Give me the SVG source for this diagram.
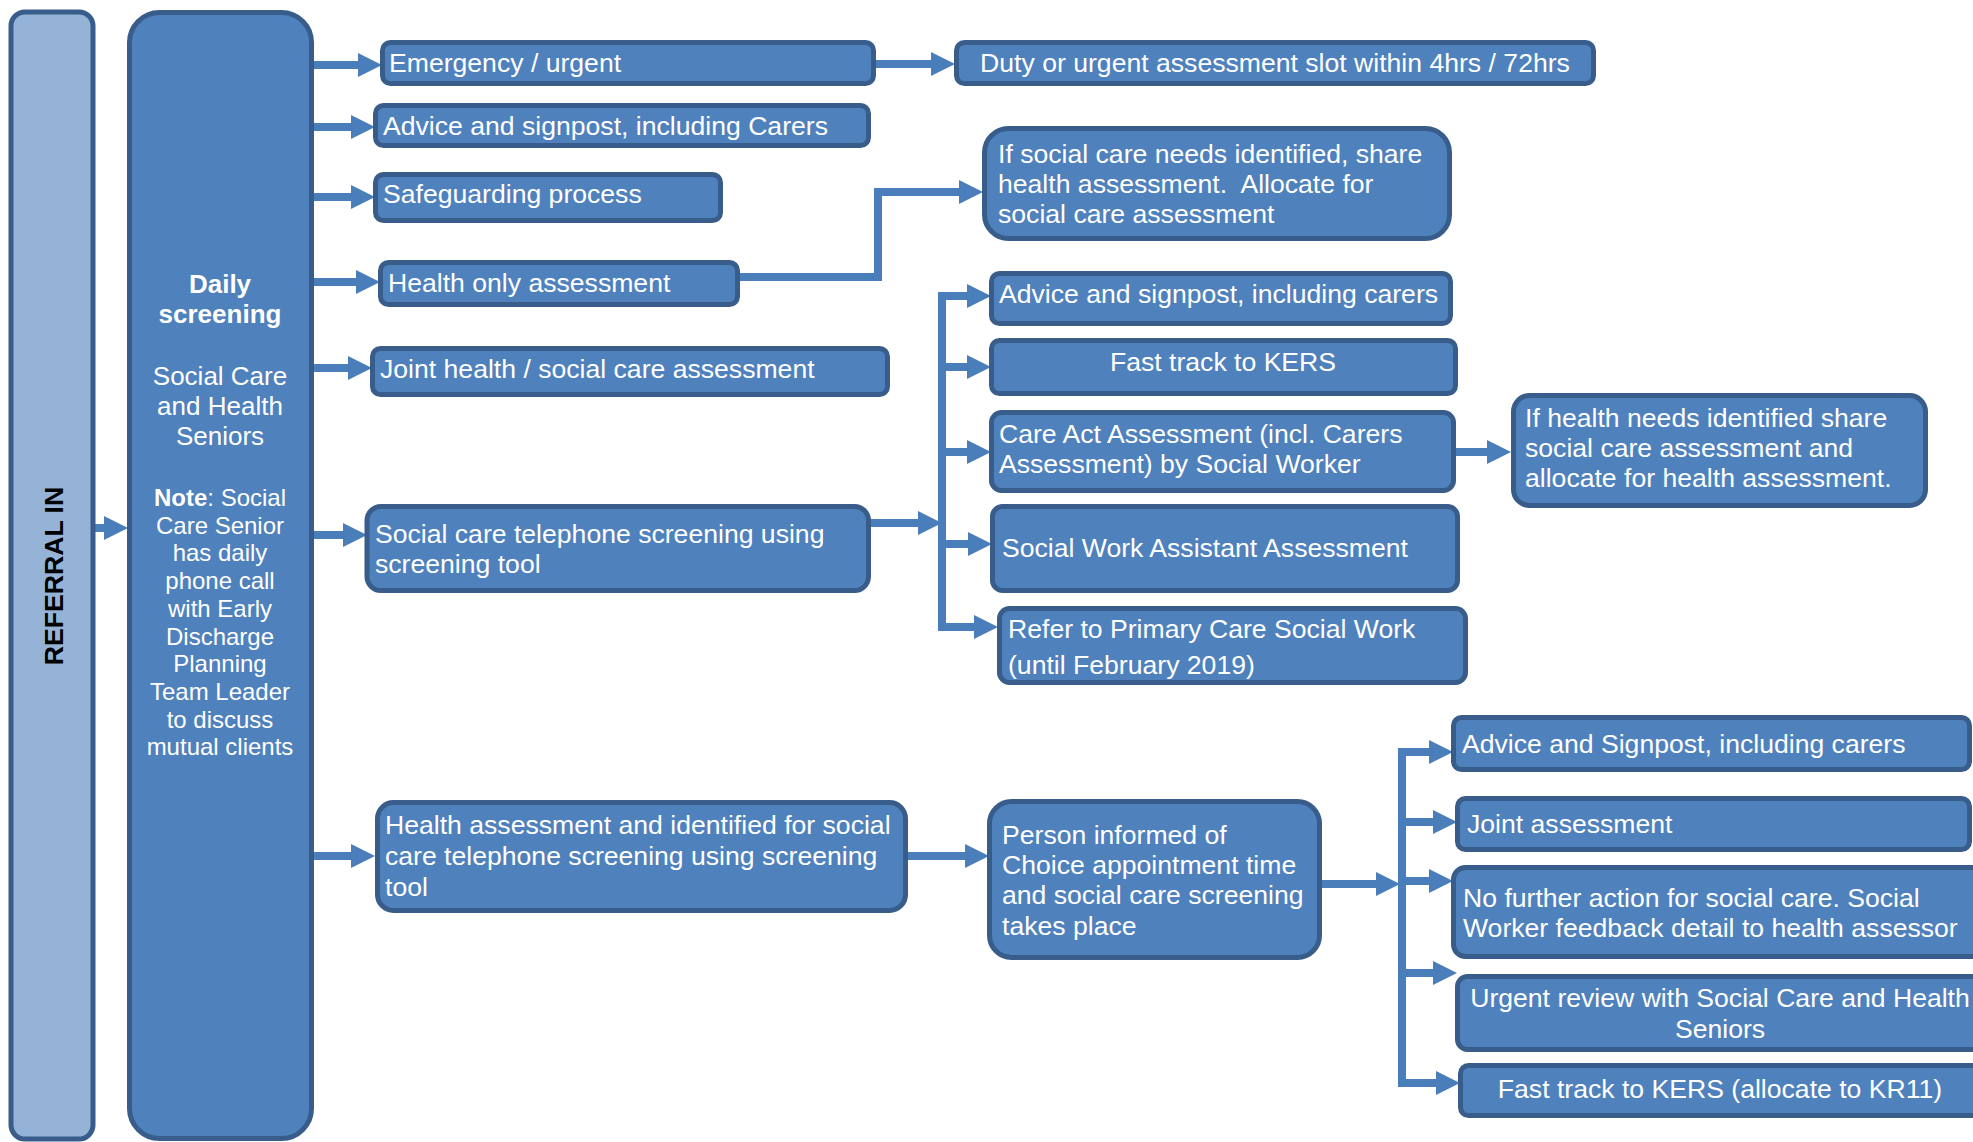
<svg xmlns="http://www.w3.org/2000/svg" width="1973" height="1142" viewBox="0 0 1973 1142">
<defs>
<style>
.box{fill:#4F81BD;stroke:#385D8A;stroke-width:5}
.ref{fill:#95B3D7;stroke:#385D8A;stroke-width:5}
.t{font-family:"Liberation Sans",Arial,sans-serif;font-size:26.6px;fill:#FFFFFF}
.d{font-family:"Liberation Sans",Arial,sans-serif;font-size:26px;fill:#FFFFFF}
.n{font-family:"Liberation Sans",Arial,sans-serif;font-size:24px;fill:#FFFFFF}
.b{font-weight:bold}
.m{text-anchor:middle}
.c{fill:none;stroke:#4A7EBB;stroke-width:8;marker-end:url(#ah)}
.tr{fill:none;stroke:#4A7EBB;stroke-width:8}
</style>
<marker id="ah" markerUnits="userSpaceOnUse" markerWidth="24" markerHeight="24" viewBox="0 0 24 24" refX="4" refY="12" orient="auto">
<path d="M0,0 L24,12 L0,24 z" fill="#4A7EBB"/>
</marker>
</defs>
<rect width="1973" height="1142" fill="#FFFFFF"/>

<g id="connectors">
<path class="c" d="M93,528 H108"/>
<path class="c" d="M312,65 H362"/>
<path class="c" d="M312,127 H355"/>
<path class="c" d="M312,197 H355"/>
<path class="c" d="M312,282 H360"/>
<path class="c" d="M312,368 H352"/>
<path class="c" d="M312,535 H347"/>
<path class="c" d="M296,856 H355"/>
<path class="c" d="M876,64 H935"/>
<path class="c" d="M739,277 H878 V192 H963"/>
<path class="c" d="M870,523 H922"/>
<path class="tr" d="M942,292 V631"/>
<path class="c" d="M938,296 H971"/>
<path class="c" d="M942,367 H971"/>
<path class="c" d="M942,452 H971"/>
<path class="c" d="M942,544 H972"/>
<path class="c" d="M938,627 H978"/>
<path class="c" d="M1455,452 H1491"/>
<path class="c" d="M908,856 H969"/>
<path class="c" d="M1322,884 H1380"/>
<path class="tr" d="M1402,748 V1087"/>
<path class="c" d="M1398,752 H1433"/>
<path class="c" d="M1402,822 H1437"/>
<path class="c" d="M1402,881 H1433"/>
<path class="c" d="M1402,973 H1437"/>
<path class="c" d="M1398,1083 H1440"/>
</g>

<g id="referral-in">
<rect class="ref" x="11" y="12" width="82" height="1127" rx="14"/>
<text class="d b m" style="fill:#000000;font-size:26.6px" transform="translate(63,576) rotate(-90)">REFERRAL IN</text>
</g>

<g id="daily-screening">
<rect class="box" x="129.5" y="12.5" width="182" height="1126" rx="30"/>
<text class="d b m" x="220" y="293">Daily</text>
<text class="d b m" x="220" y="323">screening</text>
<text class="d m" x="220" y="385">Social Care</text>
<text class="d m" x="220" y="415">and Health</text>
<text class="d m" x="220" y="445">Seniors</text>
<text class="n m" x="220" y="506"><tspan font-weight="bold">Note</tspan>: Social</text>
<text class="n m" x="220" y="534">Care Senior</text>
<text class="n m" x="220" y="561">has daily</text>
<text class="n m" x="220" y="589">phone call</text>
<text class="n m" x="220" y="617">with Early</text>
<text class="n m" x="220" y="645">Discharge</text>
<text class="n m" x="220" y="672">Planning</text>
<text class="n m" x="220" y="700">Team Leader</text>
<text class="n m" x="220" y="728">to discuss</text>
<text class="n m" x="220" y="755">mutual clients</text>
</g>

<g id="emergency">
<rect class="box" x="382.5" y="42.5" width="491" height="41" rx="8"/>
<text class="t" x="389" y="72">Emergency / urgent</text>
</g>
<g id="duty">
<rect class="box" x="956.5" y="42.5" width="637" height="41" rx="8"/>
<text class="t m" x="1275" y="72">Duty or urgent assessment slot within 4hrs / 72hrs</text>
</g>
<g id="advice-carers">
<rect class="box" x="375.5" y="105.5" width="493" height="40" rx="8"/>
<text class="t" x="383" y="135">Advice and signpost, including Carers</text>
</g>
<g id="safeguarding">
<rect class="box" x="375.5" y="174.5" width="345" height="46" rx="8"/>
<text class="t" x="383" y="203">Safeguarding process</text>
</g>
<g id="health-only">
<rect class="box" x="380.5" y="262.5" width="357" height="42" rx="8"/>
<text class="t" x="388" y="292">Health only assessment</text>
</g>
<g id="joint-health">
<rect class="box" x="372.5" y="348.5" width="515" height="46" rx="8"/>
<text class="t" x="380" y="378">Joint health / social care assessment</text>
</g>
<g id="social-care-telephone">
<rect class="box" x="367" y="506.5" width="501.5" height="84" rx="14"/>
<text class="t" x="375" y="543">Social care telephone screening using</text>
<text class="t" x="375" y="573">screening tool</text>
</g>
<g id="health-assessment">
<rect class="box" x="377.5" y="802.5" width="528" height="108" rx="16"/>
<text class="t" x="385" y="834">Health assessment and identified for social</text>
<text class="t" x="385" y="865">care telephone screening using screening</text>
<text class="t" x="385" y="896">tool</text>
</g>
<g id="person-informed">
<rect class="box" x="989.5" y="801.5" width="330" height="156" rx="22"/>
<text class="t" x="1002" y="844">Person informed of</text>
<text class="t" x="1002" y="874">Choice appointment time</text>
<text class="t" x="1002" y="904">and social care screening</text>
<text class="t" x="1002" y="935">takes place</text>
</g>
<g id="if-social-care">
<rect class="box" x="984.5" y="128.5" width="465" height="110" rx="24"/>
<text class="t" x="998" y="163">If social care needs identified, share</text>
<text class="t" x="998" y="193">health assessment.&#160; Allocate for</text>
<text class="t" x="998" y="223">social care assessment</text>
</g>
<g id="advice-carers-2">
<rect class="box" x="991.5" y="273.5" width="459" height="50" rx="8"/>
<text class="t" x="999" y="303">Advice and signpost, including carers</text>
</g>
<g id="fast-track">
<rect class="box" x="991.5" y="340.5" width="464" height="53" rx="8"/>
<text class="t m" x="1223" y="371">Fast track to KERS</text>
</g>
<g id="care-act">
<rect class="box" x="991.5" y="412.5" width="462" height="78" rx="10"/>
<text class="t" x="999" y="443">Care Act Assessment (incl. Carers</text>
<text class="t" x="999" y="473">Assessment) by Social Worker</text>
</g>
<g id="swa">
<rect class="box" x="992.5" y="506.5" width="465" height="84" rx="10"/>
<text class="t" x="1002" y="557">Social Work Assistant Assessment</text>
</g>
<g id="refer-primary">
<rect class="box" x="999.5" y="608.5" width="466" height="74" rx="10"/>
<text class="t" x="1008" y="638">Refer to Primary Care Social Work</text>
<text class="t" x="1008" y="674">(until February 2019)</text>
</g>
<g id="if-health-needs">
<rect class="box" x="1513.5" y="395.5" width="412" height="110" rx="16"/>
<text class="t" x="1525" y="427">If health needs identified share</text>
<text class="t" x="1525" y="457">social care assessment and</text>
<text class="t" x="1525" y="487">allocate for health assessment.</text>
</g>
<g id="advice-signpost-3">
<rect class="box" x="1453.5" y="717.5" width="516" height="52" rx="8"/>
<text class="t" x="1462" y="753">Advice and Signpost, including carers</text>
</g>
<g id="joint-assessment">
<rect class="box" x="1457.5" y="798.5" width="512" height="51" rx="8"/>
<text class="t" x="1467" y="833">Joint assessment</text>
</g>
<g id="no-further-action">
<rect class="box" x="1453.5" y="867.5" width="540" height="89" rx="12"/>
<text class="t" x="1463" y="907">No further action for social care. Social</text>
<text class="t" x="1463" y="937">Worker feedback detail to health assessor</text>
</g>
<g id="urgent-review">
<rect class="box" x="1457.5" y="976.5" width="527" height="73" rx="10"/>
<text class="t m" x="1720" y="1007">Urgent review with Social Care and Health</text>
<text class="t m" x="1720" y="1038">Seniors</text>
</g>
<g id="fast-track-kr11">
<rect class="box" x="1460.5" y="1065.5" width="520" height="50" rx="8"/>
<text class="t m" x="1720" y="1098">Fast track to KERS (allocate to KR11)</text>
</g>
</svg>
